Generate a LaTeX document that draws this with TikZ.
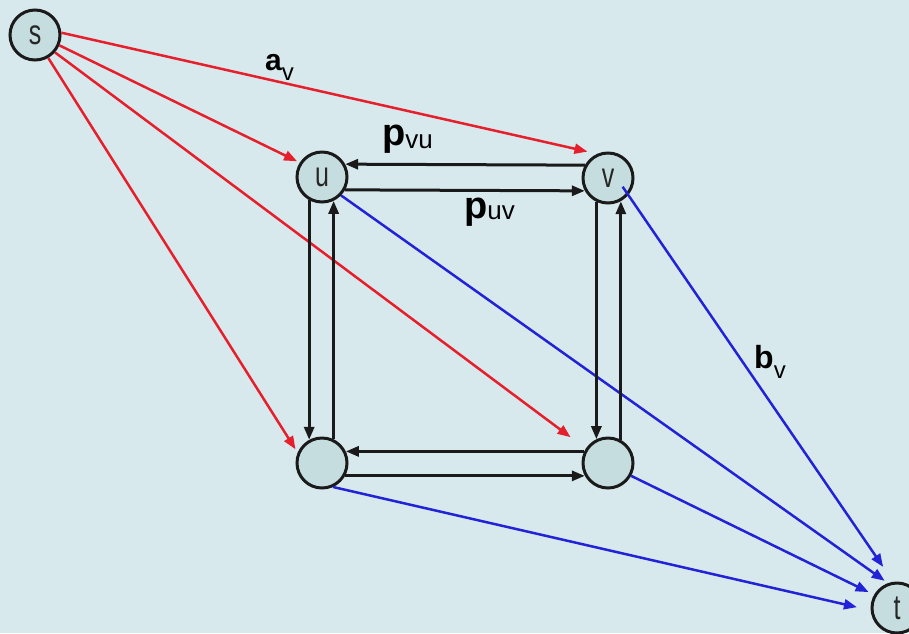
\documentclass[tikz,border=0pt]{standalone}
\usepackage{fontspec}
\setmainfont{Liberation Sans}
\usetikzlibrary{arrows.meta}
\definecolor{bg}{HTML}{D8E9ED}
\definecolor{nodefill}{HTML}{C6DDE0}
\definecolor{rline}{HTML}{E5202C}
\definecolor{bline}{HTML}{2222D6}
\definecolor{kline}{HTML}{1A1A1A}
\tikzset{
  vert/.style={circle, draw=kline, line width=3pt, fill=nodefill, minimum size=50pt, inner sep=0pt, text=black!85},
  tip/.style={-{Triangle[length=13pt,width=10pt]}},
  kedge/.style={tip, draw=kline, line width=3pt},
  redge/.style={tip, draw=rline, fill=rline, line width=2.5pt},
  bedge/.style={tip, draw=bline, fill=bline, line width=2.5pt},
  lbl/.style={anchor=base west, inner sep=0pt, text=black}
}
\newcommand{\vlab}[1]{\scalebox{1}[1.4]{\fontsize{25}{25}\selectfont #1}}
\begin{document}
\begin{tikzpicture}[x=1pt,y=-1pt]
\useasboundingbox (0,0) rectangle (909,633);
\fill[bg] (0,0) rectangle (909,633);
\node[vert] (s) at (35,35) {\vlab{s}};
\node[vert] (u) at (322,177) {\vlab{u}};
\node[vert] (v) at (608,178) {\vlab{v}};
\node[vert] (bl) at (322,463) {};
\node[vert] (br) at (608,463) {};
\node[vert] (t) at (897,608) {\vlab{t}};
% red edges
\draw[redge, shorten >=10pt] (s.5) -- (v.114);
\draw[redge, shorten >=3pt] (s.-23) -- (u.147);
\draw[redge, shorten >=19pt] (s.-41) -- (br.147);
\draw[redge, shorten >=4pt] (s.-60) -- (bl.157);
% blue edges
\draw[bedge, shorten >=4pt] (u.-44) -- (t.110);
\draw[bedge, shorten <=-10pt, shorten >=18pt] (v.-40) -- (t.98);
\draw[bedge, shorten >=6pt] (br.-29) -- (t.150);
\draw[bedge, shorten >=14pt] (bl.-65) -- (t.185);
% black edges
\draw[kedge] (v.151) -- (u.29);
\draw[kedge] (u.-29) -- (v.209);
\draw[kedge] (u.241) -- (bl.119);
\draw[kedge] (bl.64) -- (u.-64);
\draw[kedge] (v.244) -- (br.116);
\draw[kedge] (br.61) -- (v.-61);
\draw[kedge] (br.154) -- (bl.26);
\draw[kedge] (bl.-29) -- (br.209);
% labels
\node[lbl] (av) at (265,70) {{\fontsize{30}{30}\selectfont\bfseries a}\raisebox{-10pt}{\fontsize{24}{24}\selectfont v}};
\node[lbl] (pvu) at (382,145) {{\fontsize{38}{38}\selectfont\bfseries p}\raisebox{-3pt}{\fontsize{26}{26}\selectfont vu}};
\node[lbl] (puv) at (464,218) {{\fontsize{38}{38}\selectfont\bfseries p}\raisebox{-1pt}{\fontsize{26}{26}\selectfont uv}};
\node[lbl] (bv) at (754,368) {{\fontsize{32}{32}\selectfont\bfseries b}\raisebox{-10pt}{\fontsize{24}{24}\selectfont v}};
\end{tikzpicture}
\end{document}
